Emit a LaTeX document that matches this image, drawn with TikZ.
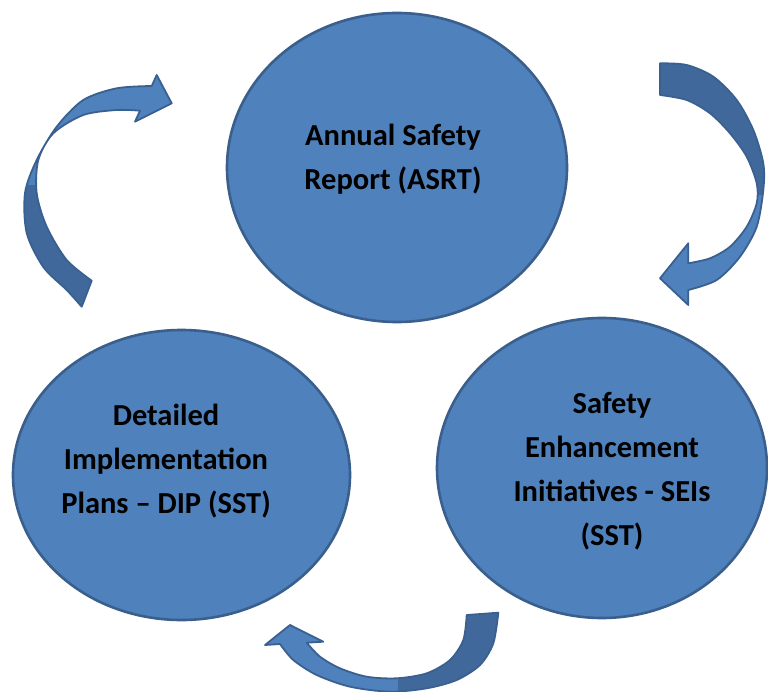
\documentclass[tikz,border=0pt]{standalone}
\usepackage{fontspec}
\setmainfont{Carlito}
\usetikzlibrary{shapes.geometric}
\definecolor{cfill}{HTML}{4F81BD}
\definecolor{cedge}{HTML}{3A5F8C}
\definecolor{adark}{HTML}{40689B}
\definecolor{aedge}{HTML}{3A6090}
\newcommand\PathLeftArrow{(81.7,306.7) -- plot[smooth] coordinates {(81.7,306.7) (66.7,290) (43.3,267) (26.7,233) (25,193) (36.7,160) (56.7,126.7) (83.3,100) (116.7,88.3) (151.7,86)} -- (156.7,75) -- (171.7,103.3) -- (135,121.7) -- (140,110.7) -- plot[smooth] coordinates {(140,110.7) (116.7,110) (83.3,115) (53.3,133.3) (38.3,160) (36.7,193.3) (46.7,226.7) (66.7,260) (91.7,280.7)} -- cycle}
\newcommand\PathRightArrow{(660,63.3) -- plot[smooth] coordinates {(660,63.3) (686.7,65) (713.3,76.7) (736.7,100) (753.3,130) (763.3,163.3) (763.3,190) (756.7,226.7) (740,256.7) (716.7,280) (688.3,290)} -- (688.3,305) -- (660,278.3) -- (688.3,243.3) -- (688.3,263.3) -- plot[smooth] coordinates {(688.3,263.3) (710,258.3) (730,246.7) (746.7,226.7) (756.7,203.3) (756.7,183.3) (746.7,156.7) (730,133.3) (710,113.3) (686.7,100) (660,95)} -- cycle}
\newcommand\PathBottomArrow{(498.3,612.7) -- plot[smooth] coordinates {(498.3,612.7) (493.3,643.3) (480,665) (456.7,680) (426.7,688.3) (390,691.7) (350,686.7) (316.7,675) (293.3,660) (280,644)} -- (265,645) -- (290,625) -- (323.3,641.7) -- (306.7,642.7) -- plot[smooth] coordinates {(306.7,642.7) (320,656.7) (340,668.3) (366.7,676.7) (396.7,678.3) (426.7,673.3) (450,660) (463.3,640) (466.7,615)} -- cycle}
\begin{document}
\begin{tikzpicture}[x=1pt,y=-1pt,
  blob/.style={ellipse, draw=cedge, line width=2.6pt, fill=cfill, inner sep=0pt},
  lbl/.style={font=\bfseries\fontsize{30.5}{44}\selectfont, align=center, text=black, inner sep=0pt},
  arrowline/.style={draw=aedge, line width=1.8pt, line join=round}]
\useasboundingbox (0,0) rectangle (768,692);
\clip (0,0) rectangle (768,692);
\fill[white] (0,0) rectangle (768,692);
% circles
\node[blob, minimum width=340pt, minimum height=309pt] (asr) at (397,167.5) {};
\node[blob, minimum width=337pt, minimum height=290pt] (dip) at (181.5,475) {};
\node[blob, minimum width=330pt, minimum height=300pt] (sei) at (602,468) {};
% labels
\node[lbl] (asrt) at (393,159.5) {Annual Safety\\Report (ASRT)};
\node[lbl] (dipt) at (166,461) {Detailed\\Implementation\\Plans -- DIP (SST)};
\node[lbl] (seit) at (612,471.5) {Safety\\Enhancement\\Initiatives - SEIs\\(SST)};
% left arrow
\fill[cfill] \PathLeftArrow;
\begin{scope}
  \clip \PathLeftArrow;
  \fill[adark] (0,185) rectangle (200,330);
\end{scope}
\draw[arrowline] \PathLeftArrow;
% right arrow
\fill[cfill] \PathRightArrow;
\begin{scope}
  \clip \PathRightArrow;
  \fill[adark] (640,40) rectangle (780,195);
\end{scope}
\draw[arrowline] \PathRightArrow;
% bottom arrow
\fill[cfill] \PathBottomArrow;
\begin{scope}
  \clip \PathBottomArrow;
  \fill[adark] (398,590) rectangle (530,700);
\end{scope}
\draw[arrowline] \PathBottomArrow;
\end{tikzpicture}
\end{document}
